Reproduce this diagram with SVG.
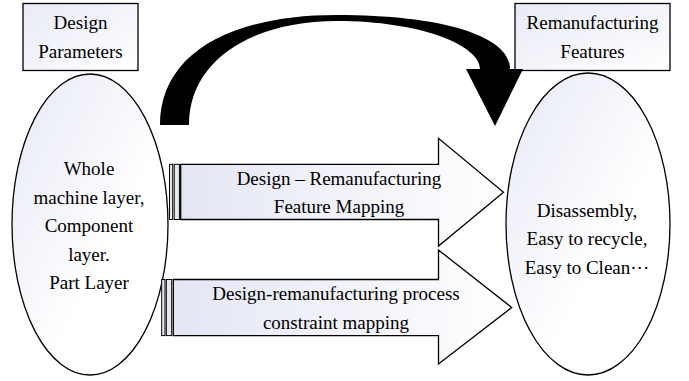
<svg xmlns="http://www.w3.org/2000/svg" width="689" height="381" viewBox="0 0 689 381">
  <defs>
    <linearGradient id="gBody" x1="0" y1="0" x2="1" y2="0">
      <stop offset="0" stop-color="#e4e6f4"/>
      <stop offset="1" stop-color="#ffffff"/>
    </linearGradient>
    <linearGradient id="gOval" x1="0" y1="0" x2="1" y2="1">
      <stop offset="0" stop-color="#e6e8f5"/>
      <stop offset="0.6" stop-color="#ffffff"/>
    </linearGradient>
    <linearGradient id="gBox" x1="0" y1="0" x2="1" y2="1">
      <stop offset="0" stop-color="#e8eaf6"/>
      <stop offset="1" stop-color="#ffffff"/>
    </linearGradient>
  </defs>
  <style>
    text { font-family: "Liberation Serif", "Times New Roman", serif; font-size: 19px; fill: #000; text-anchor: middle; }
    .box { fill: url(#gBox); stroke: #000; stroke-width: 1.3; }
    .oval { fill: url(#gOval); stroke: #000; stroke-width: 1.3; }
    .block { fill: url(#gBody); stroke: #000; stroke-width: 1.3; stroke-linejoin: miter; }
    .bar { fill: #e8e8ee; stroke: #000; stroke-width: 1; }
    .bend { fill: #000; stroke: none; }
  </style>

  <!-- left side: design parameters -->
  <g id="design-parameters">
    <rect class="box" x="23" y="3.5" width="115" height="67"/>
    <text x="80.5" y="28.5">Design</text>
    <text x="80.5" y="57.5">Parameters</text>
  </g>
  <g id="design-layers">
    <ellipse class="oval" cx="90" cy="224.5" rx="78" ry="150.5"/>
    <text x="89" y="175">Whole</text>
    <text x="89" y="204">machine layer,</text>
    <text x="89" y="232">Component</text>
    <text x="89" y="261">layer.</text>
    <text x="89" y="289">Part Layer</text>
  </g>

  <!-- right side: remanufacturing features -->
  <g id="remanufacturing-features">
    <rect class="box" x="515" y="3.5" width="155" height="67"/>
    <text x="592.5" y="28.5">Remanufacturing</text>
    <text x="592.5" y="57.5">Features</text>
  </g>
  <g id="feature-list">
    <ellipse class="oval" cx="588" cy="224" rx="82" ry="151"/>
    <text x="587" y="217">Disassembly,</text>
    <text x="587" y="245">Easy to recycle,</text>
    <text x="587" y="274">Easy to Clean···</text>
  </g>

  <!-- connectors -->
  <g id="connectors">
    <path class="bend" d="M160,125 C160,55 228,15 337,15 C440,15 510,35 510,69 L523,69 L495,126 L466,69 L480,69 C480,45 420,21 337,21 C252,21 189,60 189,125 Z"/>

    <g id="feature-mapping">
      <rect class="bar" x="169.5" y="164.3" width="3.2" height="55.2"/>
      <rect class="bar" x="174.2" y="164.3" width="5.2" height="55.2"/>
      <path class="block" d="M180.7,164.3 H438.5 V138.3 L503.5,192.3 L438.5,246 V219.5 H180.7 Z"/>
      <text x="339" y="185">Design – Remanufacturing</text>
      <text x="339" y="213">Feature Mapping</text>
    </g>

    <g id="constraint-mapping">
      <rect class="bar" x="161.7" y="279.5" width="3.3" height="56.1"/>
      <rect class="bar" x="166.3" y="279.5" width="5.4" height="56.1"/>
      <path class="block" d="M173.3,279.5 H438.5 V250 L511.7,307.5 L438.5,364 V335.6 H173.3 Z"/>
      <text x="336" y="300">Design-remanufacturing process</text>
      <text x="336" y="328.5">constraint mapping</text>
    </g>
  </g>
</svg>
